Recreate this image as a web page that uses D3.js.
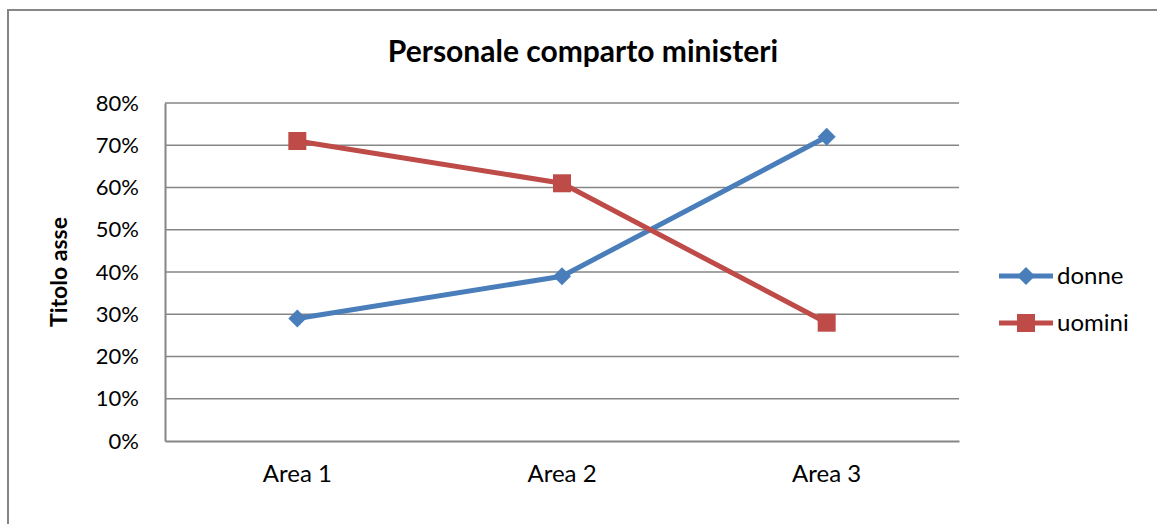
<!DOCTYPE html>
<html>
<head>
<meta charset="utf-8">
<script src="https://cdn.jsdelivr.net/npm/d3@7"></script>
<style>
  body { margin: 0; background: #fff; }
  svg text { font-family: Lato, "Open Sans", sans-serif; fill: #000; }
</style>
</head>
<body>
<svg id="chart" width="1157" height="524"></svg>
<script>
var categories = ['Area 1', 'Area 2', 'Area 3'];
var donne = [0.29, 0.39, 0.72];
var uomini = [0.71, 0.61, 0.28];
var yTicks = [0, 0.1, 0.2, 0.3, 0.4, 0.5, 0.6, 0.7, 0.8];
var seriesNames = ['donne', 'uomini'];

var svg = d3.select('#chart');
var plotL = 165, plotR = 959, plotT = 103, plotB = 441;

// outer chart frame
svg.append('rect')
  .attr('x', 8).attr('y', 10)
  .attr('width', 1160).attr('height', 530)
  .attr('fill', 'none').attr('stroke', '#868686').attr('stroke-width', 2);

svg.append('text')
  .attr('x', 583).attr('y', 62)
  .attr('text-anchor', 'middle')
  .style('font-size', '30px').style('font-weight', 'bold')
  .text('Personale comparto ministeri');

var x = d3.scaleBand().domain(categories).range([plotL, plotR]);
var y = d3.scaleLinear().domain([0, 0.8]).range([plotB, plotT]);

// gridlines
svg.append('g').selectAll('line')
  .data(yTicks.slice(1))
  .enter().append('line')
  .attr('x1', plotL).attr('x2', plotR)
  .attr('y1', function(d){ return y(d); })
  .attr('y2', function(d){ return y(d); })
  .attr('stroke', '#868686').attr('stroke-width', 1.5);

var yAxis = svg.append('g')
  .attr('transform', 'translate(' + plotL + ',0)')
  .call(d3.axisLeft(y).tickValues(yTicks).tickSize(0).tickPadding(26).tickFormat(d3.format('.0%')));
yAxis.select('.domain').attr('stroke', '#868686').attr('stroke-width', 2);
yAxis.selectAll('text').style('font-size', '22px').style('font-family', 'Lato, sans-serif');

var xAxis = svg.append('g')
  .attr('transform', 'translate(0,' + plotB + ')')
  .call(d3.axisBottom(x).tickSize(0).tickPadding(24));
xAxis.select('.domain').attr('stroke', '#868686').attr('stroke-width', 2);
xAxis.selectAll('text').style('font-size', '24px').style('font-family', 'Lato, sans-serif');

svg.append('text')
  .attr('transform', 'translate(67,' + ((plotT + plotB) / 2) + ') rotate(-90)')
  .attr('text-anchor', 'middle')
  .style('font-size', '23px').style('font-weight', 'bold')
  .text('Titolo asse');

var colors = ['#4A7EBB', '#BE4B48'];
var data = [donne, uomini];
var cx = function(i){ return x(categories[i]) + x.bandwidth() / 2; };

var line = d3.line()
  .x(function(d, i){ return cx(i); })
  .y(function(d){ return y(d); });

function drawMarker(g, k, px, py) {
  if (k === 0) {
    g.append('path')
      .attr('d', 'M0,-9L9,0L0,9L-9,0Z')
      .attr('transform', 'translate(' + px + ',' + py + ')')
      .attr('fill', colors[k]);
  } else {
    g.append('rect')
      .attr('x', px - 9).attr('y', py - 9)
      .attr('width', 18).attr('height', 18)
      .attr('fill', colors[k]);
  }
}

data.forEach(function(vals, k){
  var g = svg.append('g');
  g.append('path')
    .datum(vals)
    .attr('d', line)
    .attr('fill', 'none')
    .attr('stroke', colors[k])
    .attr('stroke-width', 5)
    .attr('stroke-linejoin', 'round');
  vals.forEach(function(v, i){ drawMarker(g, k, cx(i), y(v)); });
});

// legend
seriesNames.forEach(function(name, k){
  var ly = 276 + k * 47;
  var g = svg.append('g');
  g.append('line')
    .attr('x1', 999).attr('x2', 1053)
    .attr('y1', ly).attr('y2', ly)
    .attr('stroke', colors[k]).attr('stroke-width', 5);
  drawMarker(g, k, 1026, ly);
  g.append('text')
    .attr('x', 1057).attr('y', ly + 8)
    .style('font-size', '24px')
    .text(name);
});
</script>
</body>
</html>
